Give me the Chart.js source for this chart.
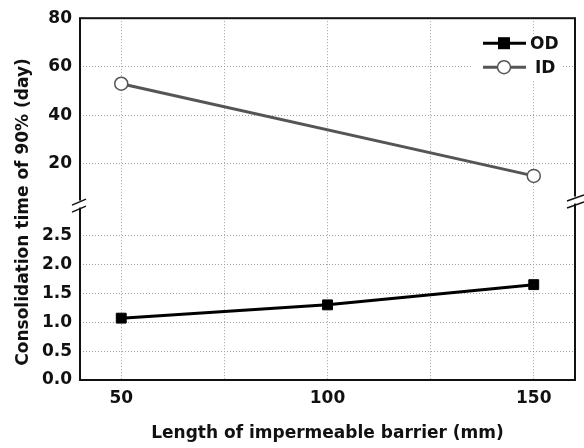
<!DOCTYPE html>
<html>
<head>
<meta charset="utf-8">
<script src="https://cdn.jsdelivr.net/npm/chart.js@4.4.0/dist/chart.umd.min.js"></script>
<style>
  html, body { margin: 0; padding: 0; background: #fff; }
</style>
</head>
<body>
<canvas id="chart" width="584" height="448"></canvas>
<script>
// barrier lengths (mm) and consolidation times (day)
const odLengths = [50, 100, 150];
const odValues = [1.07, 1.3, 1.65];
const idLengths = [50, 150];
const idValues = [53, 15];

const xTicks = [50, 75, 100, 125, 150];
const xLabelled = [50, 100, 150];
const upperTicks = [20, 40, 60, 80];
const lowerTicks = [0, 0.5, 1, 1.5, 2, 2.5];

const FONT = "'DejaVu Sans', sans-serif";
const tickFont = { family: FONT, size: 17, weight: "bold" };

function setTicks(list) {
  return (scale) => {
    scale.ticks = list.map((v) => ({ value: v }));
  };
}

const grid = { color: "#a0a0a0", lineWidth: 1, drawTicks: false };
const border = { display: false, dash: [1, 2] };

const framePlugin = {
  id: "frame",
  afterDatasetsDraw(chart) {
    const ctx = chart.ctx;
    const a = chart.chartArea;
    const upper = chart.scales.yHigh;
    const brk = upper.bottom;
    ctx.save();

    // frame
    ctx.strokeStyle = "#111";
    ctx.lineWidth = 2;
    ctx.strokeRect(a.left, a.top, a.right - a.left, a.bottom - a.top);

    // axis breaks
    const breaks = [
      { x: a.left, y: brk + 3, dx0: -8, dx1: 6 },
      { x: a.right, y: brk - 1, dx0: -8, dx1: 9 },
    ];
    breaks.forEach((b) => {
      ctx.fillStyle = "#fff";
      ctx.fillRect(b.x - 2, b.y - 5, 4, 7);
      ctx.strokeStyle = "#111";
      ctx.lineWidth = 1.5;
      [-3.5, 3.5].forEach((off) => {
        ctx.beginPath();
        ctx.moveTo(b.x + b.dx0, b.y + off + 3);
        ctx.lineTo(b.x + b.dx1, b.y + off - 3);
        ctx.stroke();
      });
    });

    // legend
    const lx = a.right - 92;
    ctx.fillStyle = "#fff";
    ctx.fillRect(lx - 11, a.top + 17, 91, 44);
    ctx.font = "bold 17px " + FONT;
    ctx.textBaseline = "middle";
    chart.data.datasets.forEach((ds, i) => {
      const y = a.top + 25 + i * 24;
      ctx.strokeStyle = ds.borderColor;
      ctx.lineWidth = ds.borderWidth;
      ctx.beginPath();
      ctx.moveTo(lx, y);
      ctx.lineTo(lx + 43, y);
      ctx.stroke();
      const cx = lx + 21;
      if (ds.pointStyle === "rect") {
        ctx.fillStyle = ds.pointBackgroundColor;
        ctx.fillRect(cx - 6, y - 6, 12, 12);
      } else {
        ctx.fillStyle = ds.pointBackgroundColor;
        ctx.strokeStyle = ds.pointBorderColor;
        ctx.lineWidth = 1.5;
        ctx.beginPath();
        ctx.arc(cx, y, 6.5, 0, Math.PI * 2);
        ctx.fill();
        ctx.stroke();
      }
      ctx.fillStyle = "#111";
      ctx.textAlign = "left";
      ctx.fillText(ds.label, lx + 47 + (i === 1 ? 5 : 0), y + 1);
    });

    // y axis title
    ctx.translate(24, 212);
    ctx.rotate(-Math.PI / 2);
    ctx.textAlign = "center";
    ctx.fillStyle = "#111";
    ctx.font = "bold 17px " + FONT;
    ctx.fillText("Consolidation time of 90% (day)", 0, 0);
    ctx.restore();
  },
};

new Chart(document.getElementById("chart"), {
  type: "line",
  data: {
    datasets: [
      {
        label: "OD",
        data: odLengths.map((x, i) => ({ x: x, y: odValues[i] })),
        yAxisID: "yLow",
        borderColor: "#000",
        borderWidth: 3,
        pointStyle: "rect",
        pointRadius: 7,
        pointBackgroundColor: "#000",
        pointBorderColor: "#000",
        pointBorderWidth: 1,
      },
      {
        label: "ID",
        data: idLengths.map((x, i) => ({ x: x, y: idValues[i] })),
        yAxisID: "yHigh",
        borderColor: "#555",
        borderWidth: 3,
        pointStyle: "circle",
        pointRadius: 6.5,
        pointBackgroundColor: "#fff",
        pointBorderColor: "#555",
        pointBorderWidth: 1.5,
      },
    ],
  },
  options: {
    responsive: false,
    animation: false,
    devicePixelRatio: 1,
    layout: { padding: { left: 0, right: 9, top: 15, bottom: 0 } },
    plugins: { legend: { display: false }, tooltip: { enabled: false } },
    scales: {
      x: {
        type: "linear",
        min: 40,
        max: 160,
        afterBuildTicks: setTicks(xTicks),
        afterFit: (s) => { s.height = 68; },
        grid: grid,
        border: border,
        ticks: {
          padding: 8,
          autoSkip: false,
          maxRotation: 0,
          color: "#111",
          font: tickFont,
          callback: (v) => (xLabelled.includes(v) ? String(v) : ""),
        },
        title: {
          display: true,
          text: "Length of impermeable barrier (mm)",
          color: "#111",
          font: { family: FONT, size: 17, weight: "bold" },
          padding: { top: 0, bottom: 4 },
        },
      },
      yLow: {
        type: "linear",
        position: "left",
        stack: "y",
        stackWeight: 179,
        weight: 0,
        min: 0,
        max: 3.07,
        afterBuildTicks: setTicks(lowerTicks),
        afterFit: (s) => { s.width = 80; },
        grid: grid,
        border: border,
        ticks: {
          padding: 8,
          autoSkip: false,
          color: "#111",
          font: tickFont,
          callback: (v) => v.toFixed(1),
        },
      },
      yHigh: {
        type: "linear",
        position: "left",
        stack: "y",
        stackWeight: 186,
        weight: 1,
        min: 4,
        max: 80,
        afterBuildTicks: setTicks(upperTicks),
        afterFit: (s) => { s.width = 80; },
        grid: grid,
        border: border,
        ticks: {
          padding: 8,
          autoSkip: false,
          color: "#111",
          font: tickFont,
        },
      },
    },
  },
  plugins: [framePlugin],
});
</script>
</body>
</html>
